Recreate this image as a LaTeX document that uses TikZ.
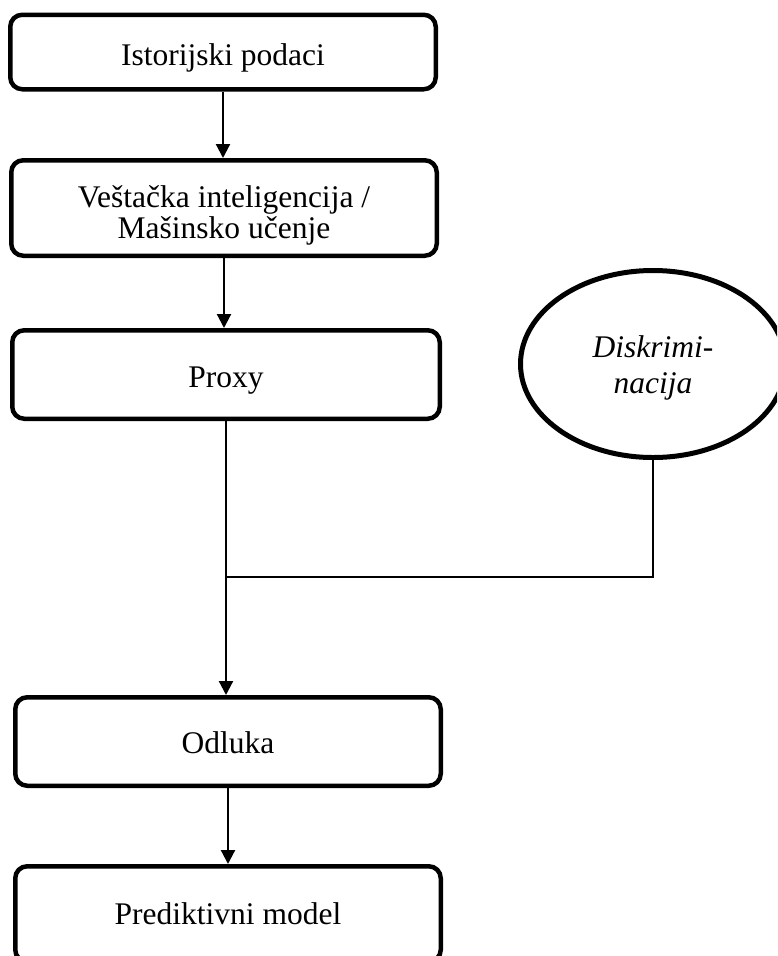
\documentclass[tikz,border=0pt]{standalone}
\usepackage{fontspec}
\setmainfont{Liberation Serif}
\usetikzlibrary{arrows.meta,shapes.geometric}
\newcommand\twolines[2]{\begin{tabular}[t]{@{}c@{}}#1\\#2\end{tabular}}
\begin{document}
\begin{tikzpicture}[x=1pt,y=-1pt,
  box/.style={draw, line width=4.5pt, rounded corners=12pt, inner sep=0pt,
    text depth=0pt, font=\fontsize{31.5}{31}\selectfont},
  oval/.style={draw, ellipse, line width=5pt, inner sep=0pt,
    font=\itshape\fontsize{31.5}{36}\selectfont},
  conn/.style={line width=2.2pt},
  arr/.style={conn, -{Triangle[length=14pt,width=14pt]}}]
\clip (0,0) rectangle (777,956);
\useasboundingbox (0,0) rectangle (777,956);

\node[box, minimum width=425.5pt, minimum height=74.5pt, text height=27pt] (b1) at (223,52) {Istorijski podaci};
\node[box, minimum width=425.5pt, minimum height=95.5pt, text height=0pt, text depth=2pt] (b2) at (224,208) {\twolines{Veštačka inteligencija /}{Mašinsko učenje}};
\node[box, minimum width=427.5pt, minimum height=88.5pt, text height=25pt] (b3) at (226,374.5) {Proxy};
\node[box, minimum width=425.5pt, minimum height=88.5pt, text height=23pt] (b4) at (228,741.5) {Odluka};
\node[box, minimum width=425.5pt, minimum height=95.5pt, text height=20pt] (b5) at (228,914) {Prediktivni model};
\node[oval, minimum width=265pt, minimum height=187pt, text height=0pt, text depth=14pt] (e) at (653,364) {\twolines{Diskrimi-}{nacija}};

\coordinate (j) at (b3.south |- 0,577);

\draw[arr] (b1.south) -- (b1.south |- b2.north);
\draw[arr] (b2.south) -- (b2.south |- b3.north);
\draw[arr] (b3.south) -- (b3.south |- b4.north);
\draw[conn] (e.south) |- (j);
\draw[arr] (b4.south) -- (b4.south |- b5.north);
\end{tikzpicture}
\end{document}
